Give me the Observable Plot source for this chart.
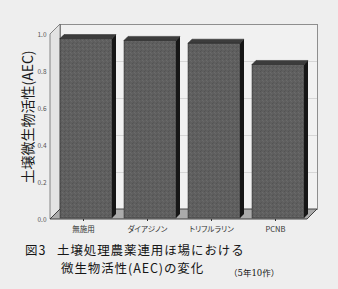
<!DOCTYPE html>
<html><head><meta charset="utf-8">
<script src="https://cdn.jsdelivr.net/npm/d3@7"></script>
<script src="https://cdn.jsdelivr.net/npm/@observablehq/plot@0.6"></script>
<style>
html,body{margin:0;padding:0;background:#eeeeee;}
body{width:338px;height:289px;overflow:hidden;position:relative;font-family:"Noto Sans CJK JP","Noto Sans",sans-serif;}
#chart{position:absolute;left:0;top:0;}
.cap{position:absolute;white-space:nowrap;color:#161616;line-height:1;font-size:12.5px;letter-spacing:0.9px;}
</style></head><body>
<div id="chart"></div>
<div class="cap" style="left:25px;top:244px;">図3</div>
<div class="cap" style="left:57px;top:244px;">土壌処理農薬連用ほ場における</div>
<div class="cap" style="left:61px;top:262px;">微生物活性(AEC)の変化</div>
<div class="cap" style="left:229px;top:269px;font-size:8.5px;letter-spacing:0;font-family:'DejaVu Serif','Noto Sans CJK JP',serif">（5年10作）</div>
<script>
const categories = ["無施用", "ダイアジノン", "トリフルラリン", "PCNB"];
const aecValues = [0.97, 0.96, 0.945, 0.83];
const yTicks = [0, 0.2, 0.4, 0.6, 0.8, 1.0];
const gridTicks = [0.2, 0.4, 0.6, 0.8];
const yDomain = [0, 1];
const yTitle = "土壌微生物活性(AEC)";

const data = categories.map((c, i) => ({category: c, value: aecValues[i]}));
const D = 10;      // wall depth (px)
const BD = 4;      // bar depth (px)
const INL = 9, INR = 3;

function defs() {
  const d = d3.create("svg:defs");
  const p = d.append("pattern").attr("id", "barTex").attr("patternUnits", "userSpaceOnUse")
    .attr("width", 4).attr("height", 4);
  p.append("rect").attr("width", 4).attr("height", 4).attr("fill", "#5f5f5f");
  p.append("rect").attr("x", 0).attr("y", 0).attr("width", 1).attr("height", 1).attr("fill", "#535353");
  p.append("rect").attr("x", 2).attr("y", 1).attr("width", 1).attr("height", 1).attr("fill", "#6b6b6b");
  p.append("rect").attr("x", 1).attr("y", 3).attr("width", 1).attr("height", 1).attr("fill", "#575757");
  p.append("rect").attr("x", 3).attr("y", 2).attr("width", 1).attr("height", 1).attr("fill", "#686868");
  return d.node();
}

function walls(index, scales, values, dim) {
  const xl = dim.marginLeft, xr = dim.width - dim.marginRight;
  const yb = scales.y(yDomain[0]), yt = scales.y(yDomain[1]);
  const g = d3.create("svg:g");
  g.append("path").attr("d", `M${xl},${yb}L${xl},${yt}L${xl + D},${yt - D}L${xl + D},${yb - D}Z`)
    .attr("fill", "#e3e3e3").attr("stroke", "#6a6a6a").attr("stroke-width", 0.8);
  g.append("path").attr("d", `M${xl},${yb}L${xr},${yb}L${xr + D},${yb - D}L${xl + D},${yb - D}Z`)
    .attr("fill", "#ababab").attr("stroke", "#333").attr("stroke-width", 0.9);
  return g.node();
}

function barFaces(index, scales, values, dim) {
  const x = scales.x, y = scales.y;
  const bw = x.bandwidth ? x.bandwidth() : (dim.width - dim.marginLeft - dim.marginRight) / categories.length;
  const g = d3.create("svg:g");
  for (const d of data) {
    const x1 = x(d.category) + INL, x2 = x(d.category) + bw - INR;
    const yt = y(d.value) - 1, yb = y(yDomain[0]) - 1;
    g.append("path").attr("d", `M${x1},${yt}L${x1 + BD},${yt - BD}L${x2 + BD},${yt - BD}L${x2},${yt}Z`)
      .attr("fill", "#3c3c3c").attr("stroke", "#222").attr("stroke-width", 0.5);
    g.append("path").attr("d", `M${x2},${yt}L${x2 + BD},${yt - BD}L${x2 + BD},${yb - BD}L${x2},${yb}Z`)
      .attr("fill", "#161616");
  }
  return g.node();
}

const chart = Plot.plot({
  width: 338,
  height: 238,
  marginLeft: 50,
  marginRight: 31,
  marginTop: 34,
  marginBottom: 19,
  style: {background: "#eeeeee", fontFamily: "'Noto Sans CJK JP', 'DejaVu Sans', sans-serif", fontSize: "7px", color: "#333"},
  x: {domain: categories, padding: 0, tickSize: 2, tickPadding: 5, label: null},
  y: {domain: yDomain, ticks: yTicks, tickFormat: ".1f", tickSize: 0, tickPadding: 4, label: null},
  marks: [
    defs,
    Plot.frame({dx: D, dy: -D, fill: "#f1f1f1", stroke: "#777", strokeWidth: 0.8}),
    Plot.ruleY(gridTicks, {dx: D, dy: -D, stroke: "#cfcfcf", strokeWidth: 0.8}),
    walls,
    Plot.barY(data, {x: "category", y: "value", insetLeft: INL, insetRight: INR, dy: -1, fill: "url(#barTex)", stroke: "#2a2a2a", strokeWidth: 0.5}),
    barFaces,
    Plot.text([yTitle], {text: d => d, frameAnchor: "left", rotate: -90, dx: -22, dy: -10, fontSize: 14, fill: "#1a1a1a", textAnchor: "middle"})
  ]
});
document.getElementById("chart").appendChild(chart);

// axis text styling
chart.querySelectorAll('g[aria-label^="y-axis"] text').forEach(t => { t.setAttribute("font-size", "6.5"); t.style.fontSize = "6.5px"; t.setAttribute("fill", "#555"); });
chart.querySelectorAll('g[aria-label^="x-axis"] text').forEach(t => { t.setAttribute("font-size", "7.5"); t.style.fontSize = "7.5px"; t.setAttribute("fill", "#333"); t.style.fontFeatureSettings = '"palt"'; });
</script>
</body></html>
